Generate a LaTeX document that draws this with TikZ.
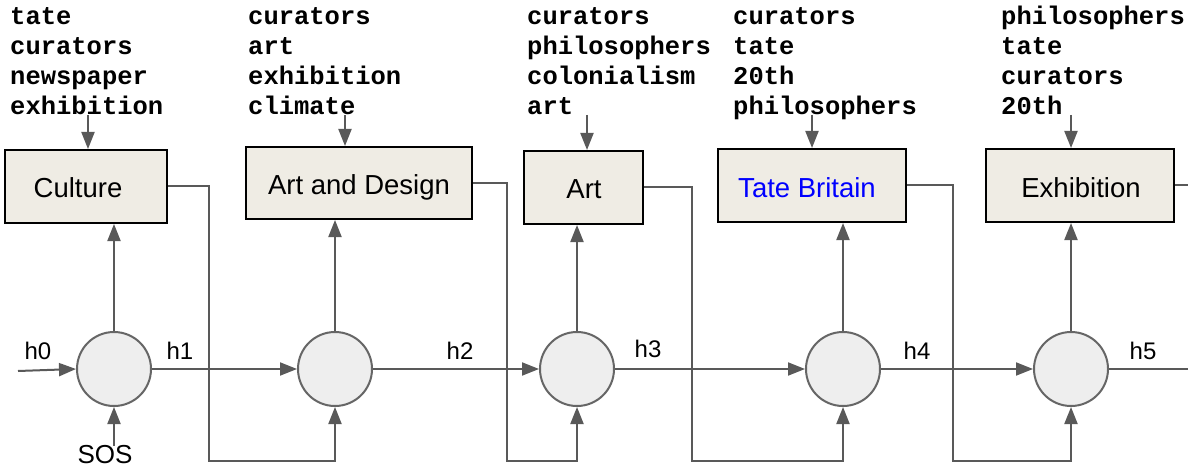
\documentclass[tikz,border=0pt]{standalone}
\usepackage{fontspec}
\setmainfont{Liberation Sans}
\newfontfamily\monof{Liberation Mono}
\usetikzlibrary{arrows.meta}
\definecolor{ln}{HTML}{595959}
\definecolor{cfill}{HTML}{EEEEEE}
\definecolor{cdraw}{HTML}{666666}
\definecolor{bfill}{HTML}{EFECE4}
\definecolor{tblue}{HTML}{0000FF}
\begin{document}
\begin{tikzpicture}[x=1pt,y=-1pt,
 cell/.style={circle,draw=cdraw,fill=cfill,line width=2pt,minimum size=74pt,inner sep=0pt},
 box/.style={rectangle,draw=black,fill=bfill,line width=2pt,inner sep=0pt},
 lab/.style={font=\fontsize{27.5}{33}\selectfont,anchor=base,inner sep=0pt},
 words/.style={font=\monof\bfseries\fontsize{25.5}{30}\selectfont,align=left,anchor=north west,inner sep=0pt},
 hl/.style={font=\fontsize{24}{28}\selectfont,inner sep=0pt},
 arr/.style={draw=ln,line width=2pt,-{Triangle[length=17pt,width=13pt]}},
 wire/.style={draw=ln,line width=2pt}]
\useasboundingbox (0,0) rectangle (1188,473);

% word lists
\node[words] (t1) at (10,4) {\rule{0pt}{20pt}tate\\curators\\newspaper\\exhibition};
\node[words] (t2) at (248,4) {\rule{0pt}{20pt}curators\\art\\exhibition\\climate};
\node[words] (t3) at (527,4) {\rule{0pt}{20pt}curators\\philosophers\\colonialism\\art};
\node[words] (t4) at (733,4) {\rule{0pt}{20pt}curators\\tate\\20th\\philosophers};
\node[words] (t5) at (1001,4) {\rule{0pt}{20pt}philosophers\\tate\\curators\\20th};

% boxes
\node[box,minimum width=162pt,minimum height=73pt] (b1) at (86,186.5) {};
\node[box,minimum width=226pt,minimum height=72pt] (b2) at (359,183) {};
\node[box,minimum width=119pt,minimum height=73pt] (b3) at (583.5,187.5) {};
\node[box,minimum width=188pt,minimum height=73pt] (b4) at (812,185.5) {};
\node[box,minimum width=188pt,minimum height=73pt] (b5) at (1080,185.5) {};
\node[lab] (l1) at (78,198) {Culture};
\node[lab] (l2) at (359,194.5) {Art and Design};
\node[lab] (l3) at (584,199) {Art};
\node[lab,text=tblue] (l4) at (807,197) {Tate Britain};
\node[lab] (l5) at (1081,197) {Exhibition};

% cells
\node[cell] (c1) at (114,369) {};
\node[cell] (c2) at (335,369) {};
\node[cell] (c3) at (577,369) {};
\node[cell] (c4) at (843,369) {};
\node[cell] (c5) at (1071,369) {};

% hidden-state labels
\node[hl] (h0) at (38,351) {h0};
\node[hl] (h1) at (180,351) {h1};
\node[hl] (h2) at (460,351) {h2};
\node[hl] (h3) at (648,349) {h3};
\node[hl] (h4) at (917,351) {h4};
\node[hl] (h5) at (1143,351) {h5};
\node[font=\fontsize{26}{30}\selectfont,inner sep=0pt] (sos) at (105,455) {SOS};

% word list arrows
\coordinate (w1) at (88,115);
\coordinate (w2) at (345,115);
\coordinate (w3) at (587,115);
\coordinate (w4) at (812,115);
\coordinate (w5) at (1071,115);
\draw[arr] (w1) -- (w1 |- b1.north);
\draw[arr] (w2) -- (w2 |- b2.north);
\draw[arr] (w3) -- (w3 |- b3.north);
\draw[arr] (w4) -- (w4 |- b4.north);
\draw[arr] (w5) -- (w5 |- b5.north);

% feedback wires
\coordinate (k1) at (209,461);
\coordinate (k2) at (507,461);
\coordinate (k3) at (692,461);
\coordinate (k4) at (953,461);
\coordinate (kend) at (1188,185.5);
\draw[arr] (b1.east) -| (k1) -| (c2.south);
\draw[arr] (b2.east) -| (k2) -| (c3.south);
\draw[arr] (b3.east) -| (k3) -| (c4.south);
\draw[arr] (b4.east) -| (k4) -| (c5.south);
\draw[wire] (b5.east) -- (kend);

% hidden state chain
\coordinate (hin) at (18,371);
\coordinate (hout) at (1188,369);
\draw[arr] (hin) -- (c1.west);
\draw[arr] (c1.east) -- (c2.west);
\draw[arr] (c2.east) -- (c3.west);
\draw[arr] (c3.east) -- (c4.west);
\draw[arr] (c4.east) -- (c5.west);
\draw[wire] (c5.east) -- (hout);

% outputs
\draw[arr] (c1.north) -- (c1.north |- b1.south);
\draw[arr] (c2.north) -- (c2.north |- b2.south);
\draw[arr] (c3.north) -- (c3.north |- b3.south);
\draw[arr] (c4.north) -- (c4.north |- b4.south);
\draw[arr] (c5.north) -- (c5.north |- b5.south);

% SOS input
\draw[arr] (c1 |- sos.north) -- (c1.south);
\end{tikzpicture}
\end{document}
